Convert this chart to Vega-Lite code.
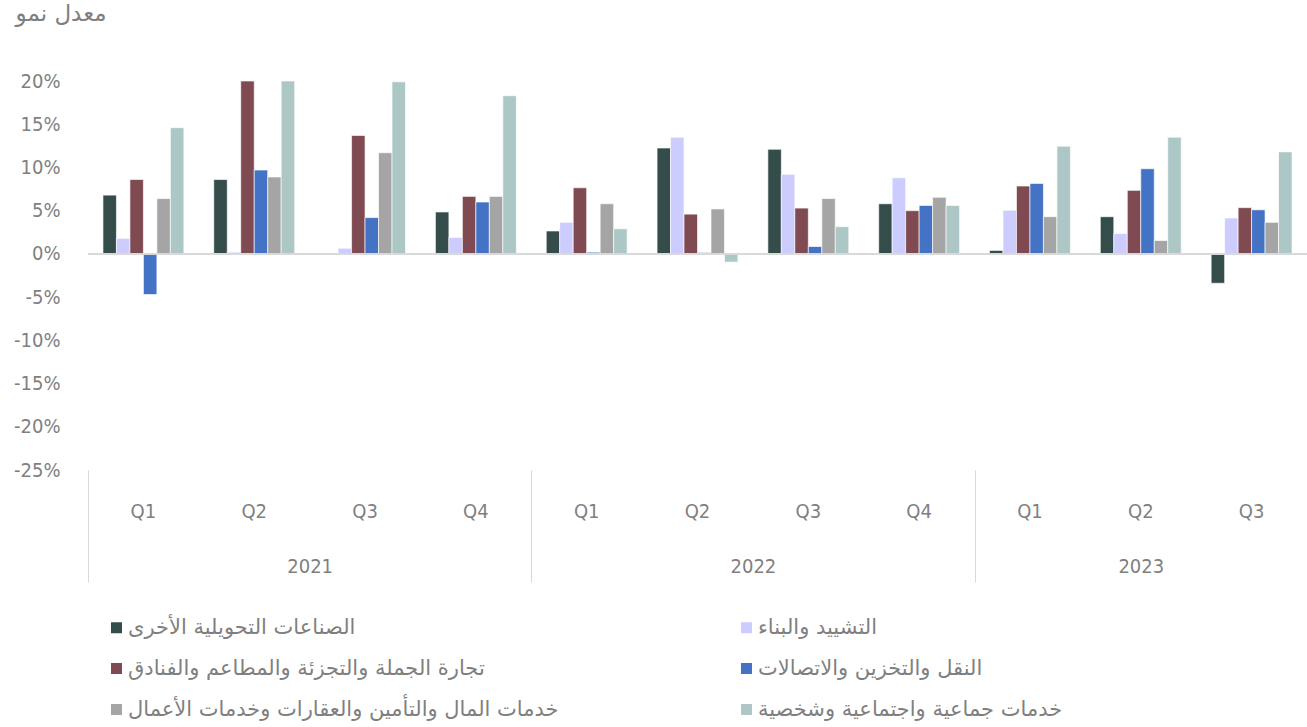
{
  "$schema": "https://vega.github.io/schema/vega-lite/v6.json",
  "width": 1219,
  "height": 389,
  "autosize": {"type": "none"},
  "padding": {"left": 88, "top": 81, "right": 0, "bottom": 257},
  "background": "white",
  "config": {
    "view": {"stroke": null},
    "font": "DejaVu Sans Condensed",
    "axis": {"labelColor": "#7F7F7F", "titleColor": "#7F7F7F", "grid": false}
  },
  "data": {
    "values": [
      {"period": "2021-Q1", "series": "الصناعات التحويلية الأخرى", "value": 6.8},
      {"period": "2021-Q1", "series": "التشييد والبناء", "value": 1.8},
      {"period": "2021-Q1", "series": "تجارة الجملة والتجزئة والمطاعم والفنادق", "value": 8.6},
      {"period": "2021-Q1", "series": "النقل والتخزين والاتصالات", "value": -4.7},
      {"period": "2021-Q1", "series": "خدمات المال والتأمين والعقارات وخدمات الأعمال", "value": 6.4},
      {"period": "2021-Q1", "series": "خدمات جماعية واجتماعية وشخصية", "value": 14.6},
      {"period": "2021-Q2", "series": "الصناعات التحويلية الأخرى", "value": 8.6},
      {"period": "2021-Q2", "series": "التشييد والبناء", "value": 0.2},
      {"period": "2021-Q2", "series": "تجارة الجملة والتجزئة والمطاعم والفنادق", "value": 20.0},
      {"period": "2021-Q2", "series": "النقل والتخزين والاتصالات", "value": 9.7},
      {"period": "2021-Q2", "series": "خدمات المال والتأمين والعقارات وخدمات الأعمال", "value": 8.9},
      {"period": "2021-Q2", "series": "خدمات جماعية واجتماعية وشخصية", "value": 20.0},
      {"period": "2021-Q3", "series": "الصناعات التحويلية الأخرى", "value": 0.0},
      {"period": "2021-Q3", "series": "التشييد والبناء", "value": 0.65},
      {"period": "2021-Q3", "series": "تجارة الجملة والتجزئة والمطاعم والفنادق", "value": 13.7},
      {"period": "2021-Q3", "series": "النقل والتخزين والاتصالات", "value": 4.2},
      {"period": "2021-Q3", "series": "خدمات المال والتأمين والعقارات وخدمات الأعمال", "value": 11.7},
      {"period": "2021-Q3", "series": "خدمات جماعية واجتماعية وشخصية", "value": 19.9},
      {"period": "2021-Q4", "series": "الصناعات التحويلية الأخرى", "value": 4.85},
      {"period": "2021-Q4", "series": "التشييد والبناء", "value": 1.9},
      {"period": "2021-Q4", "series": "تجارة الجملة والتجزئة والمطاعم والفنادق", "value": 6.65},
      {"period": "2021-Q4", "series": "النقل والتخزين والاتصالات", "value": 6.0},
      {"period": "2021-Q4", "series": "خدمات المال والتأمين والعقارات وخدمات الأعمال", "value": 6.65},
      {"period": "2021-Q4", "series": "خدمات جماعية واجتماعية وشخصية", "value": 18.3},
      {"period": "2022-Q1", "series": "الصناعات التحويلية الأخرى", "value": 2.65},
      {"period": "2022-Q1", "series": "التشييد والبناء", "value": 3.65},
      {"period": "2022-Q1", "series": "تجارة الجملة والتجزئة والمطاعم والفنادق", "value": 7.65},
      {"period": "2022-Q1", "series": "النقل والتخزين والاتصالات", "value": 0.2},
      {"period": "2022-Q1", "series": "خدمات المال والتأمين والعقارات وخدمات الأعمال", "value": 5.8},
      {"period": "2022-Q1", "series": "خدمات جماعية واجتماعية وشخصية", "value": 2.9},
      {"period": "2022-Q2", "series": "الصناعات التحويلية الأخرى", "value": 12.25},
      {"period": "2022-Q2", "series": "التشييد والبناء", "value": 13.5},
      {"period": "2022-Q2", "series": "تجارة الجملة والتجزئة والمطاعم والفنادق", "value": 4.6},
      {"period": "2022-Q2", "series": "النقل والتخزين والاتصالات", "value": 0.15},
      {"period": "2022-Q2", "series": "خدمات المال والتأمين والعقارات وخدمات الأعمال", "value": 5.2},
      {"period": "2022-Q2", "series": "خدمات جماعية واجتماعية وشخصية", "value": -0.95},
      {"period": "2022-Q3", "series": "الصناعات التحويلية الأخرى", "value": 12.1},
      {"period": "2022-Q3", "series": "التشييد والبناء", "value": 9.2},
      {"period": "2022-Q3", "series": "تجارة الجملة والتجزئة والمطاعم والفنادق", "value": 5.3},
      {"period": "2022-Q3", "series": "النقل والتخزين والاتصالات", "value": 0.85},
      {"period": "2022-Q3", "series": "خدمات المال والتأمين والعقارات وخدمات الأعمال", "value": 6.4},
      {"period": "2022-Q3", "series": "خدمات جماعية واجتماعية وشخصية", "value": 3.15},
      {"period": "2022-Q4", "series": "الصناعات التحويلية الأخرى", "value": 5.8},
      {"period": "2022-Q4", "series": "التشييد والبناء", "value": 8.8},
      {"period": "2022-Q4", "series": "تجارة الجملة والتجزئة والمطاعم والفنادق", "value": 5.0},
      {"period": "2022-Q4", "series": "النقل والتخزين والاتصالات", "value": 5.6},
      {"period": "2022-Q4", "series": "خدمات المال والتأمين والعقارات وخدمات الأعمال", "value": 6.55},
      {"period": "2022-Q4", "series": "خدمات جماعية واجتماعية وشخصية", "value": 5.6},
      {"period": "2023-Q1", "series": "الصناعات التحويلية الأخرى", "value": 0.4},
      {"period": "2023-Q1", "series": "التشييد والبناء", "value": 5.05},
      {"period": "2023-Q1", "series": "تجارة الجملة والتجزئة والمطاعم والفنادق", "value": 7.85},
      {"period": "2023-Q1", "series": "النقل والتخزين والاتصالات", "value": 8.15},
      {"period": "2023-Q1", "series": "خدمات المال والتأمين والعقارات وخدمات الأعمال", "value": 4.3},
      {"period": "2023-Q1", "series": "خدمات جماعية واجتماعية وشخصية", "value": 12.45},
      {"period": "2023-Q2", "series": "الصناعات التحويلية الأخرى", "value": 4.3},
      {"period": "2023-Q2", "series": "التشييد والبناء", "value": 2.35},
      {"period": "2023-Q2", "series": "تجارة الجملة والتجزئة والمطاعم والفنادق", "value": 7.35},
      {"period": "2023-Q2", "series": "النقل والتخزين والاتصالات", "value": 9.85},
      {"period": "2023-Q2", "series": "خدمات المال والتأمين والعقارات وخدمات الأعمال", "value": 1.55},
      {"period": "2023-Q2", "series": "خدمات جماعية واجتماعية وشخصية", "value": 13.5},
      {"period": "2023-Q3", "series": "الصناعات التحويلية الأخرى", "value": -3.4},
      {"period": "2023-Q3", "series": "التشييد والبناء", "value": 4.15},
      {"period": "2023-Q3", "series": "تجارة الجملة والتجزئة والمطاعم والفنادق", "value": 5.35},
      {"period": "2023-Q3", "series": "النقل والتخزين والاتصالات", "value": 5.1},
      {"period": "2023-Q3", "series": "خدمات المال والتأمين والعقارات وخدمات الأعمال", "value": 3.65},
      {"period": "2023-Q3", "series": "خدمات جماعية واجتماعية وشخصية", "value": 11.8}
    ]
  },
  "layer": [
    {
      "mark": {"type": "bar", "stroke": "white", "strokeWidth": 0.8, "strokeOpacity": 0.8},
      "encoding": {
        "x": {
          "field": "period",
          "type": "nominal",
          "sort": null,
          "scale": {"paddingInner": 0.27, "paddingOuter": 0.135},
          "axis": {
            "orient": "bottom",
            "title": null,
            "domain": false,
            "ticks": false,
            "labelAngle": 0,
            "labelPadding": 31,
            "labelFontSize": 20,
            "labelExpr": "substring(datum.value, 5)"
          }
        },
        "xOffset": {
          "field": "series",
          "type": "nominal",
          "sort": [
            "الصناعات التحويلية الأخرى",
            "التشييد والبناء",
            "تجارة الجملة والتجزئة والمطاعم والفنادق",
            "النقل والتخزين والاتصالات",
            "خدمات المال والتأمين والعقارات وخدمات الأعمال",
            "خدمات جماعية واجتماعية وشخصية"
          ],
          "scale": {"paddingInner": 0, "paddingOuter": 0}
        },
        "y": {
          "field": "value",
          "type": "quantitative",
          "scale": {"domain": [-25, 20], "nice": false, "zero": false},
          "axis": {
            "values": [-25, -20, -15, -10, -5, 0, 5, 10, 15, 20],
            "labelExpr": "datum.value + '%'",
            "domain": false,
            "ticks": false,
            "labelPadding": 28,
            "labelFontSize": 20,
            "title": "معدل نمو",
            "titleFont": "DejaVu Sans",
            "titleAngle": 0,
            "titleAlign": "left",
            "titleBaseline": "alphabetic",
            "titleX": -73,
            "titleY": -61,
            "titleFontSize": 23,
            "titleFontWeight": "normal"
          }
        },
        "color": {
          "field": "series",
          "type": "nominal",
          "scale": {
            "domain": [
              "الصناعات التحويلية الأخرى",
              "التشييد والبناء",
              "تجارة الجملة والتجزئة والمطاعم والفنادق",
              "النقل والتخزين والاتصالات",
              "خدمات المال والتأمين والعقارات وخدمات الأعمال",
              "خدمات جماعية واجتماعية وشخصية"
            ],
            "range": ["#344D4B", "#CCCCFF", "#7F4A52", "#4472C4", "#A5A5A5", "#ADC6C6"]
          },
          "legend": {
            "orient": "none",
            "legendX": 18,
            "legendY": 536,
            "direction": "horizontal",
            "columns": 2,
            "title": null,
            "symbolType": "square",
            "symbolSize": 121,
            "symbolStrokeWidth": 0,
            "labelFont": "DejaVu Sans",
            "labelFontSize": 21,
            "labelColor": "#7F7F7F",
            "labelOffset": 1,
            "labelLimit": 700,
            "rowPadding": 19,
            "columnPadding": 177,
            "gridAlign": "all"
          }
        }
      }
    },
    {
      "mark": {"type": "rule", "color": "#D9D9D9", "strokeWidth": 1.5},
      "encoding": {"y": {"datum": 0}}
    },
    {
      "mark": {"type": "text", "text": "", "opacity": 0},
      "encoding": {
        "x": {
          "datum": 0,
          "type": "quantitative",
          "scale": {"domain": [0, 11], "nice": false, "zero": false},
          "axis": {
            "orient": "bottom",
            "title": null,
            "domain": false,
            "grid": false,
            "values": [0, 2, 4, 6, 8, 9.5],
            "tickSize": 112,
            "tickColor": "#D9D9D9",
            "tickWidth": 1,
            "tickOpacity": {"condition": {"test": "datum.value % 4 === 0", "value": 1}, "value": 0},
            "labelExpr": "datum.value === 2 ? '2021' : datum.value === 6 ? '2022' : datum.value === 9.5 ? '2023' : ''",
            "labelFontSize": 20,
            "labelPadding": -26,
            "labelFlush": false,
            "labelOverlap": false
          }
        }
      }
    }
  ],
  "resolve": {"scale": {"x": "independent"}, "axis": {"x": "independent"}}
}
